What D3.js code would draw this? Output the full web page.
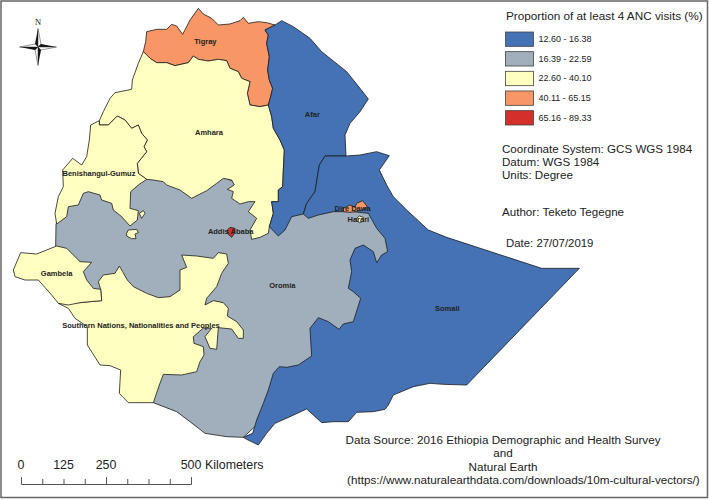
<!DOCTYPE html>
<html>
<head>
<meta charset="utf-8">
<script src="https://cdn.jsdelivr.net/npm/d3@7"></script>
<style>
  html, body { margin: 0; padding: 0; background: #fff; }
  svg { display: block; }
  text { font-family: "Liberation Sans", Arial, sans-serif; fill: #222; }
</style>
</head>
<body>
<div id="map"></div>
<script>
// classes of the map
const classLabels = ['12.60 - 16.38', '16.39 - 22.59', '22.60 - 40.10', '40.11 - 65.15', '65.16 - 89.33'];
const classColors = ['#4472b5', '#a0afbb', '#ffffbf', '#f89665', '#d42f2a'];

// outlines in map units (km east / south of the sheet corner)
// shared edges are kept apart so both neighbours use the same points
const tigrayNorth = [[440,95],[470,88],[500,88],[515,73],[530,78],[548,103],[570,60],[595,25],[610,42],[635,55],[655,75],[690,72],[720,62],[730,52],[745,70],[775,65],[800,68],[825,75]];
const tigrayAfar = [[825,75],[795,90],[805,105],[800,130],[808,170],[803,210],[808,240],[818,265],[812,290],[805,315]];
const tigrayAmhara = [[805,315],[780,320],[750,315],[742,280],[750,245],[725,235],[715,215],[690,205],[680,182],[655,178],[625,183],[595,178],[580,168],[565,188],[525,197],[500,188],[470,188],[450,175],[430,155]];
const tigrayWest = [[430,155],[437,125],[440,95]];
const amharaAfar = [[805,315],[815,350],[820,385],[840,420],[853,450],[850,510],[848,560],[835,570],[835,605],[815,605],[820,640],[808,680]];
const amharaOromia = [[808,680],[805,700],[780,712],[755,718],[750,690],[770,655],[745,635],[765,605],[745,605],[720,612],[695,595],[700,575],[682,568],[703,555],[695,540],[670,535],[650,550],[620,572],[575,595],[540,570],[500,555],[490,545],[460,540],[440,538]];
const amharaBenishangul = [[440,538],[415,520],[412,490],[440,455],[432,440],[442,420],[425,400],[415,375],[395,385],[375,360],[352,348],[325,375],[298,375],[298,362]];
const amharaWest = [[298,362],[310,335],[330,295],[345,278],[395,268],[397,240],[415,190],[430,155]];
const benishangulSouth = [[298,362],[272,375],[268,420],[260,470],[245,495],[218,475],[188,510],[190,560],[175,590],[165,640],[170,672],[200,650],[205,620],[235,615],[250,580],[265,575],[300,585],[305,600],[335,610],[340,630],[365,650],[390,678],[412,660],[415,632],[390,625],[392,575],[415,555],[440,538]];
const benishangulIsletA = [[380,700],[385,690],[410,688],[415,698],[405,702],[408,716],[395,716],[380,708]];
const benishangulIsletB = [[418,640],[430,632],[435,640],[425,655]];
const afarEast = [[825,75],[845,62],[880,80],[930,115],[965,155],[1040,215],[1080,265],[1105,297],[1080,335],[1050,370],[1035,405],[1038,468]];
const afarSomali = [[1038,468],[975,468],[958,495],[945,575],[920,610],[910,642]];
const afarOromia = [[910,642],[875,650],[855,690],[835,708],[808,680]];
const somaliCoast = [[1038,468],[1080,465],[1130,455],[1168,467],[1138,510],[1160,555],[1180,590],[1220,630],[1285,690],[1340,712],[1625,805],[1738,805],[1400,1155],[1330,1153],[1290,1150],[1240,1160],[1180,1185],[1165,1215],[1155,1228],[1120,1235],[1070,1237],[1045,1265],[1000,1265],[965,1268],[920,1227],[870,1250],[825,1270],[800,1300],[775,1335],[740,1318],[730,1312]];
const somaliOromia = [[730,1312],[758,1300],[770,1260],[790,1210],[805,1170],[820,1120],[838,1100],[860,1102],[895,1095],[935,1068],[932,1020],[930,985],[955,953],[985,965],[1017,988],[1030,972],[1060,965],[1082,895],[1060,875],[1045,865],[1055,815],[1050,780],[1065,745],[1090,735],[1120,755],[1130,788],[1145,765],[1163,755],[1155,715],[1130,685],[1105,640],[1060,635],[1000,635],[955,645],[925,655],[910,642]];
const oromiaOuter = [[168,672],[167,738],[200,800],[270,890],[300,1000],[400,1150],[460,1208],[530,1235],[570,1265],[615,1300],[680,1310],[730,1312],[850,1200],[1000,1050],[1200,800],[1200,700],[1130,600],[1000,600],[900,620],[820,650],[780,580],[600,500],[300,520],[220,600],[185,640]];
const snnpOuter = [[302,868],[295,845],[310,825],[345,820],[358,798],[368,815],[382,840],[400,860],[440,880],[475,893],[510,890],[540,870],[540,810],[560,802],[545,765],[590,768],[640,775],[655,758],[680,762],[685,790],[665,820],[650,860],[620,895],[615,915],[640,902],[670,908],[685,925],[682,948],[710,965],[730,990],[730,1015],[715,1015],[695,987],[655,983],[650,1048],[630,1045],[615,1010],[635,985],[610,984],[580,1010],[582,1030],[610,1040],[612,1065],[600,1085],[590,1115],[545,1125],[490,1123],[478,1155],[460,1208],[385,1208],[358,1180],[362,1110],[330,1097],[300,1095],[262,1035],[262,980],[225,955],[205,925],[175,910],[240,908],[270,905],[305,902]];
const gambelaOuter = [[40,810],[62,758],[110,762],[170,738],[200,745],[240,785],[275,787],[250,815],[260,840],[280,865],[302,868],[305,902],[270,905],[240,908],[205,915],[175,910],[155,885],[115,840],[75,840],[45,830]];
const direDawaOuter = [[1030,625],[1050,615],[1065,622],[1070,610],[1088,602],[1102,620],[1085,630],[1065,635],[1050,637],[1030,635]];
const harariOuter = [[1070,655],[1078,648],[1090,652],[1090,664],[1078,668],[1070,662]];
const addisOuter = [[682,690],[690,682],[705,685],[705,697],[695,712],[685,703]];

// draw order matters: Oromia lies under its neighbours
const regionShapes = [
  oromiaOuter,
  snnpOuter,
  gambelaOuter,
  [...tigrayNorth, ...tigrayAfar.slice(1), ...tigrayAmhara.slice(1), ...tigrayWest.slice(1)],
  [...tigrayAmhara.slice().reverse(), ...amharaAfar.slice(1), ...amharaOromia.slice(1), ...amharaBenishangul.slice(1), ...amharaWest.slice(1)],
  [...benishangulSouth, ...amharaBenishangul.slice(1)],
  benishangulIsletA,
  benishangulIsletB,
  [...afarEast, ...afarSomali.slice(1), ...afarOromia.slice(1), ...amharaAfar.slice().reverse().slice(1), ...tigrayAfar.slice().reverse().slice(1)],
  [...somaliCoast, ...somaliOromia.slice(1), ...afarSomali.slice().reverse().slice(1)],
  direDawaOuter,
  harariOuter,
  addisOuter
];
const regionClass = [1, 2, 2, 3, 2, 2, 2, 2, 0, 0, 3, 2, 4];

const regionLabels = ['Tigray', 'Amhara', 'Benishangul-Gumuz', 'Afar', 'Addis Ababa', 'Dire Dawa', 'Harari', 'Gambela', 'Oromia', 'Somali', 'Southern Nations, Nationalities and Peoples'];
const labelEast = [616, 627, 297, 937, 692, 1058, 1075, 170, 847, 1342, 423];
const labelSouth = [123, 397, 519, 342, 693, 625, 657, 820, 857, 925, 976];

const scaleTicks = [0, 62.5, 125, 187.5, 250, 312.5, 375, 437.5, 500];
const scaleNumbers = [0, 125, 250, 500];

const infoLines = ['Coordinate System: GCS WGS 1984', 'Datum: WGS 1984', 'Units: Degree', 'Author: Teketo Tegegne'];
const infoBase = [153, 166, 179, 216];
const sourceLines = ['Data Source: 2016 Ethiopia Demographic and Health Survey', 'and', 'Natural Earth', '(https://www.naturalearthdata.com/downloads/10m-cultural-vectors/)'];

const width = 709, height = 500;

const xMap = d3.scaleLinear().domain([0, 2127]).range([0, width]);
const yMap = d3.scaleLinear().domain([0, 1500]).range([0, height]);
const outline = d3.line().x(d => xMap(d[0])).y(d => yMap(d[1])).curve(d3.curveLinearClosed);

const svg = d3.select('#map').append('svg').attr('width', width).attr('height', height);

svg.append('rect')
  .attr('x', 1).attr('y', 1)
  .attr('width', width - 2.5).attr('height', height - 3.5)
  .attr('fill', '#fff').attr('stroke', '#666').attr('stroke-width', 1.5);

svg.append('g').selectAll('path')
  .data(regionShapes)
  .join('path')
  .attr('d', outline)
  .attr('fill', (d, i) => classColors[regionClass[i]])
  .attr('stroke', '#1c1c1c')
  .attr('stroke-width', 0.8)
  .attr('stroke-linejoin', 'round');

svg.append('g').selectAll('text')
  .data(regionLabels)
  .join('text')
  .attr('x', (d, i) => xMap(labelEast[i]))
  .attr('y', (d, i) => yMap(labelSouth[i]) + 2.5)
  .attr('text-anchor', 'middle')
  .attr('font-size', 7.5)
  .attr('font-weight', 'bold')
  .text(d => d);

// legend
svg.append('text').attr('x', 506).attr('y', 20).attr('font-size', 11.75).text('Proportion of at least 4 ANC visits (%)');

const yLegend = d3.scaleBand().domain(classLabels).range([32, 125]).paddingInner(0.27).paddingOuter(0);
const legend = svg.append('g').selectAll('g')
  .data(classLabels)
  .join('g')
  .attr('transform', d => `translate(505.5,${yLegend(d)})`);
legend.append('rect')
  .attr('width', 28).attr('height', yLegend.bandwidth())
  .attr('fill', (d, i) => classColors[i])
  .attr('stroke', '#444').attr('stroke-width', 0.8);
legend.append('text')
  .attr('x', 33).attr('y', yLegend.bandwidth() / 2 + 3)
  .attr('font-size', 9).attr('fill', '#444')
  .text(d => d);

svg.append('g').selectAll('text')
  .data(infoLines)
  .join('text')
  .attr('x', 502).attr('y', (d, i) => infoBase[i])
  .attr('font-size', 11.6)
  .text(d => d);
svg.append('text').attr('x', 506).attr('y', 247).attr('font-size', 11.4).text('Date: 27/07/2019');

svg.append('g').selectAll('text')
  .data(sourceLines)
  .join('text')
  .attr('x', (d, i) => i === 3 ? 347 : 503)
  .attr('y', (d, i) => 444 + i * 13.4)
  .attr('text-anchor', (d, i) => i === 3 ? 'start' : 'middle')
  .attr('font-size', 11.7)
  .text(d => d);

// scale bar
const xScaleBar = d3.scaleLinear().domain([0, 500]).range([21, 191]);
const scaleBar = svg.append('g').attr('transform', 'translate(0,484)')
  .call(d3.axisTop(xScaleBar).tickValues(scaleTicks).tickSize(5).tickFormat(''));
scaleBar.select('.domain').attr('stroke', '#555');
scaleBar.selectAll('.tick line')
  .attr('stroke', '#555')
  .attr('y2', d => d % 250 === 0 ? -7 : -5);

svg.append('g').selectAll('text')
  .data(scaleNumbers)
  .join('text')
  .attr('x', d => xScaleBar(d))
  .attr('y', 469)
  .attr('text-anchor', 'middle')
  .attr('font-size', 12.4)
  .text(d => d);
svg.append('text').attr('x', 205).attr('y', 469).attr('font-size', 12.4).text('Kilometers');

// north arrow
const arrow = svg.append('g').attr('transform', 'translate(38,47)');
[0, 90, 180, 270].forEach(a => {
  const g = arrow.append('g').attr('transform', `rotate(${a})`);
  g.append('path').attr('d', 'M0,-18.5L-3,-3L0,0Z').attr('fill', '#111');
  g.append('path').attr('d', 'M0,-18.5L3,-3L0,0Z').attr('fill', '#fff').attr('stroke', '#333').attr('stroke-width', 0.5);
});
svg.append('text')
  .attr('x', 38).attr('y', 24.5)
  .attr('text-anchor', 'middle')
  .attr('font-size', 8.5)
  .style('font-family', '"Liberation Serif", serif')
  .text('N');
</script>
</body>
</html>
